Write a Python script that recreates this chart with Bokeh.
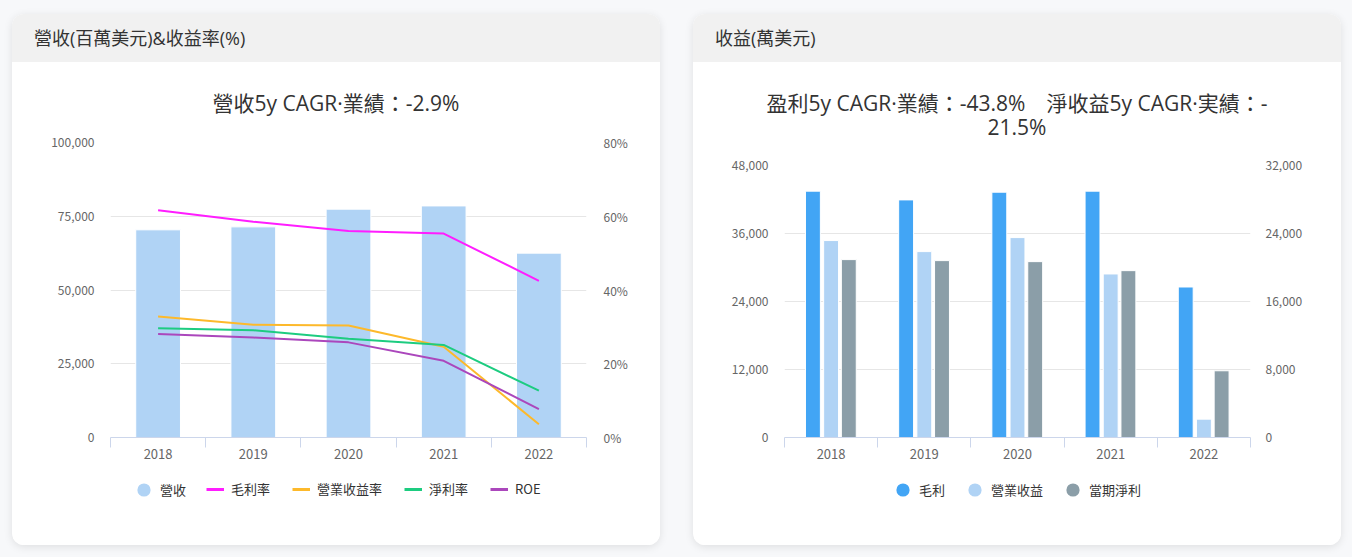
from bokeh.plotting import figure
from bokeh.models import (Range1d, LinearAxis, FixedTicker, NumeralTickFormatter,
                          PrintfTickFormatter, Legend, LegendItem, Div, ColumnDataSource)
from bokeh.layouts import row, column
from bokeh.embed import file_html
from bokeh.resources import INLINE

# ---------------- data ----------------
years = ["2018", "2019", "2020", "2021", "2022"]

revenue = [70400, 71400, 77400, 78500, 62500]          # 營收 (百萬美元)
gross_margin = [61.6, 58.5, 56.0, 55.3, 42.5]          # 毛利率 %
op_margin = [32.8, 30.6, 30.4, 24.6, 3.6]              # 營業收益率 %
net_margin = [29.6, 29.1, 26.8, 25.1, 12.7]            # 淨利率 %
roe = [28.1, 27.1, 25.8, 20.8, 7.7]                    # ROE %

gross_profit = [43470, 41930, 43290, 43470, 26560]     # 毛利 (left axis)
op_income = [23170, 21870, 23520, 19240, 2160]         # 營業收益 (right axis)
net_income = [20930, 20810, 20690, 19630, 7850]        # 當期淨利 (right axis)

rev_ticks = [0, 25000, 50000, 75000, 100000]
pct_ticks = [0, 20, 40, 60, 80]
inc_left_ticks = [0, 12000, 24000, 36000, 48000]
inc_right_ticks = [0, 8000, 16000, 24000, 32000]

left_header = "營收(百萬美元)&amp;收益率(%)"
left_title = "營收5y CAGR·業績：-2.9%"
right_header = "收益(萬美元)"
right_title = "盈利5y CAGR·業績：-43.8%　淨收益5y CAGR·実績：-<br>21.5%"

FONT = "Noto Sans CJK TC"
CSS_FONT = "'Open Sans', 'Noto Sans CJK TC', sans-serif"
TXT = "#333333"
LBL = "#666666"
C_REV = "#b0d3f5"
C_GM, C_OM, C_NM, C_ROE = "#ff1dff", "#fdb92b", "#1dcc80", "#ab47bc"
C_GP, C_OI, C_NI = "#42a5f5", "#b0d3f5", "#8b9ea8"
xs = list(range(len(years)))
bounds = [i - 0.5 for i in range(len(years) + 1)]


def style_y(ax, standoff):
    ax.axis_line_color = None
    ax.major_tick_line_color = None
    ax.minor_tick_line_color = None
    ax.major_tick_out = 0
    ax.major_tick_in = 0
    ax.major_label_standoff = standoff
    ax.major_label_text_font = FONT
    ax.major_label_text_font_size = "12px"
    ax.major_label_text_color = LBL


def base_fig(h, ml, mr, ymax, ticks):
    p = figure(width=648, height=h, output_backend="svg", toolbar_location=None,
               x_range=Range1d(-0.5, len(years) - 0.5), y_range=Range1d(0, ymax),
               min_border_left=ml, min_border_right=mr, min_border_top=10,
               min_border_bottom=33, outline_line_color=None,
               background_fill_color="white", border_fill_color="white")
    p.xgrid.visible = False
    p.ygrid.grid_line_color = "#e6e6e6"
    p.ygrid.grid_line_width = 1
    xa = p.xaxis[0]
    xa.ticker = FixedTicker(ticks=xs, minor_ticks=bounds)
    xa.major_label_overrides = {i: y for i, y in enumerate(years)}
    xa.axis_line_color = "#ccd6eb"
    xa.major_tick_line_color = None
    xa.major_tick_out = 0
    xa.major_tick_in = 0
    xa.minor_tick_line_color = "#ccd6eb"
    xa.minor_tick_out = 10
    xa.minor_tick_in = 0
    xa.major_label_standoff = 1
    xa.major_label_text_font = FONT
    xa.major_label_text_font_size = "13px"
    xa.major_label_text_color = LBL
    ya = p.yaxis[0]
    ya.ticker = FixedTicker(ticks=ticks)
    ya.formatter = NumeralTickFormatter(format="0,0")
    style_y(ya, 16)
    return p


def legend_fig(groups):
    # legend-only panel: its renderers carry the series data but are hidden,
    # so only the legend swatches are drawn.
    lf = figure(width=648, height=75, output_backend="svg", toolbar_location=None,
                x_range=Range1d(0, 1), y_range=Range1d(0, 1),
                x_axis_location=None, y_axis_location=None,
                min_border_left=0, min_border_right=0, min_border_top=0,
                min_border_bottom=0, outline_line_color=None,
                background_fill_color="white", border_fill_color="white")
    lf.xgrid.visible = False
    lf.ygrid.visible = False
    for entries, gsize, standoff, spacing, loc in groups:
        items = []
        for label, kind, color, vals in entries:
            if kind == "dot":
                r = lf.scatter(x=xs, y=vals, marker="circle", fill_color=color,
                               line_color=None, size=14)
            else:
                r = lf.line(x=xs, y=vals, line_color=color, line_width=3)
            r.visible = False
            items.append(LegendItem(label=label, renderers=[r]))
        lg = Legend(items=items, orientation="horizontal", location=loc,
                    border_line_color=None, background_fill_alpha=0,
                    inactive_fill_alpha=0,
                    label_text_font=FONT, label_text_font_size="13px",
                    label_text_color=TXT, glyph_width=gsize, glyph_height=gsize,
                    spacing=spacing, label_standoff=standoff, margin=0, padding=0)
        lf.add_layout(lg)
    return lf


def card(header, title, title_h, fig, lfig):
    hdr = Div(text=f'<div style="padding-left:22px;line-height:48px;font-size:18px;'
                   f'color:{TXT};font-family:{CSS_FONT};white-space:nowrap">{header}</div>',
              width=648, height=48, margin=0, styles={"background-color": "#f1f1f1"})
    ttl = Div(text=f'<div style="width:648px;text-align:center;padding-top:29px;font-size:21px;'
                   f'line-height:24px;color:{TXT};font-family:{CSS_FONT}">{title}</div>',
              width=648, height=title_h, margin=0, styles={"background-color": "white"})
    return column(hdr, ttl, fig, lfig,
                  styles={"border-radius": "12px", "overflow": "hidden",
                          "background-color": "white",
                          "box-shadow": "0 2px 8px rgba(0,0,0,0.10)"})


# ---------------- left chart ----------------
p1 = base_fig(338, 98, 74, 100000, rev_ticks)
p1.extra_y_ranges = {"pct": Range1d(0, 80)}
ra = LinearAxis(y_range_name="pct", ticker=FixedTicker(ticks=pct_ticks),
                formatter=PrintfTickFormatter(format="%d%%"))
style_y(ra, 17)
p1.add_layout(ra, "right")

src1 = ColumnDataSource(dict(x=xs, rev=revenue, gm=gross_margin, om=op_margin,
                             nm=net_margin, roe=roe))
p1.vbar(x="x", top="rev", width=0.47, source=src1, fill_color=C_REV,
        line_color="white", line_width=1)
for col, color in [("gm", C_GM), ("om", C_OM), ("nm", C_NM), ("roe", C_ROE)]:
    p1.line(x="x", y=col, source=src1, y_range_name="pct", line_color=color, line_width=2)
lf1 = legend_fig([
    ([("營收", "dot", C_REV, revenue)], 33, 0, 0, (17, 39)),
    ([("毛利率", "line", C_GM, gross_margin), ("營業收益率", "line", C_OM, op_margin),
      ("淨利率", "line", C_NM, net_margin), ("ROE", "line", C_ROE, roe)], 18, 7, 22, (96, 47)),
])

# ---------------- right chart ----------------
p2 = base_fig(315, 91, 91, 48000, inc_left_ticks)
p2.extra_y_ranges = {"r": Range1d(0, 32000)}
ra2 = LinearAxis(y_range_name="r", ticker=FixedTicker(ticks=inc_right_ticks),
                 formatter=NumeralTickFormatter(format="0,0"))
style_y(ra2, 15)
p2.add_layout(ra2, "right")

src2 = ColumnDataSource(dict(x0=[x - 0.195 for x in xs], x1=xs, x2=[x + 0.19 for x in xs],
                             gp=gross_profit, oi=op_income, ni=net_income))
p2.vbar(x="x0", top="gp", width=0.16, source=src2, fill_color=C_GP,
        line_color="white", line_width=1)
p2.vbar(x="x1", top="oi", width=0.16, source=src2, fill_color=C_OI,
        line_color="white", line_width=1, y_range_name="r")
p2.vbar(x="x2", top="ni", width=0.16, source=src2, fill_color=C_NI,
        line_color="white", line_width=1, y_range_name="r")
lf2 = legend_fig([
    ([("毛利", "dot", C_GP, gross_profit), ("營業收益", "dot", C_OI, op_income),
      ("當期淨利", "dot", C_NI, net_income)], 33, 0, 13, (102, 39)),
])

c1 = card(left_header, left_title, 70, p1, lf1)
c2 = card(right_header, right_title, 93, p2, lf2)
layout = row(c1, c2, spacing=33,
             styles={"padding": "14px 12px", "background-color": "#f7f8fa"})

open("out.html", "w").write(file_html(layout, INLINE))
